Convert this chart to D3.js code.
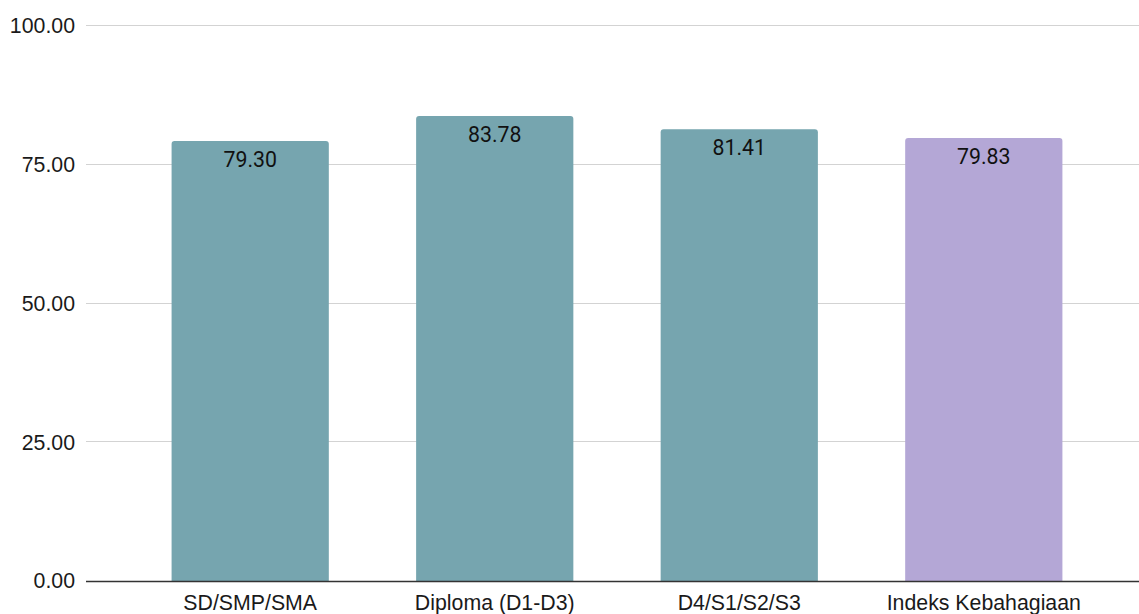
<!DOCTYPE html>
<html>
<head>
<meta charset="utf-8">
<script src="https://cdn.jsdelivr.net/npm/d3@7"></script>
<style>
  html, body { margin: 0; padding: 0; background: #fff; }
  svg { display: block; }
</style>
</head>
<body>
<svg id="chart" width="1139" height="614"></svg>
<script>
const categories = ["SD/SMP/SMA", "Diploma (D1-D3)", "D4/S1/S2/S3", "Indeks Kebahagiaan"];
const values = [79.30, 83.78, 81.41, 79.83];
const barColors = ["#76a5af", "#76a5af", "#76a5af", "#b4a7d6"];
const yTicks = [0, 25, 50, 75, 100];

const W = 1139, H = 614;
const svg = d3.select("#chart");

const x = d3.scaleBand()
  .domain(categories)
  .range([86, 1148])
  .paddingInner(0.357)
  .paddingOuter(0.35);

const y = d3.scaleLinear().domain([0, 100]).range([581, 26]);

// gridlines
svg.append("g").selectAll("line")
  .data(yTicks.filter(d => d !== 0))
  .join("line")
  .attr("x1", 86).attr("x2", W)
  .attr("y1", d => Math.round(y(d)) - 0.5).attr("y2", d => Math.round(y(d)) - 0.5)
  .attr("stroke", "#d3d3d3").attr("stroke-width", 1);

// y axis labels
const yAxis = d3.axisLeft(y).tickValues(yTicks).tickFormat(d3.format(".2f")).tickSize(0).tickPadding(0);
const gy = svg.append("g").attr("transform", "translate(75,-0.5)").call(yAxis);
gy.select(".domain").remove();
gy.selectAll("text")
  .attr("font-family", "'Liberation Sans', Arial, Helvetica, sans-serif")
  .attr("font-size", 21.3)
  .attr("fill", "#1a1a1a")
  .attr("dy", "0.35em");

// bars with rounded top corners
function barPath(x0, y0, w, h, r) {
  r = Math.min(r, w / 2, h);
  return `M${x0},${y0 + h}V${y0 + r}Q${x0},${y0} ${x0 + r},${y0}H${x0 + w - r}Q${x0 + w},${y0} ${x0 + w},${y0 + r}V${y0 + h}Z`;
}

const data = categories.map((c, i) => ({ c, v: values[i], color: barColors[i] }));

svg.append("g").selectAll("path")
  .data(data)
  .join("path")
  .attr("d", d => barPath(x(d.c), y(d.v), x.bandwidth(), y(0) - y(d.v), 3))
  .attr("fill", d => d.color);

// value labels
svg.append("g").selectAll("text")
  .data(data)
  .join("text")
  .attr("x", d => x(d.c) + x.bandwidth() / 2)
  .attr("y", d => y(d.v) + 26)
  .attr("text-anchor", "middle")
  .attr("font-family", "Roboto, 'Noto Sans', sans-serif")
  .attr("font-size", 21.3)
  .attr("fill", "#111")
  .text(d => d3.format(".2f")(d.v));

// baseline
svg.append("line")
  .attr("x1", 86).attr("x2", W)
  .attr("y1", y(0) + 0.5).attr("y2", y(0) + 0.5)
  .attr("stroke", "#333").attr("stroke-width", 1.3);

// x axis labels
const xAxis = d3.axisBottom(x).tickSize(0).tickPadding(0);
const gx = svg.append("g").attr("transform", `translate(0,${y(0)})`).call(xAxis);
gx.select(".domain").remove();
gx.selectAll("text")
  .attr("font-family", "'Liberation Sans', Arial, Helvetica, sans-serif")
  .attr("font-size", 21.3)
  .attr("fill", "#1a1a1a")
  .attr("dy", null)
  .attr("y", 29);
</script>
</body>
</html>
